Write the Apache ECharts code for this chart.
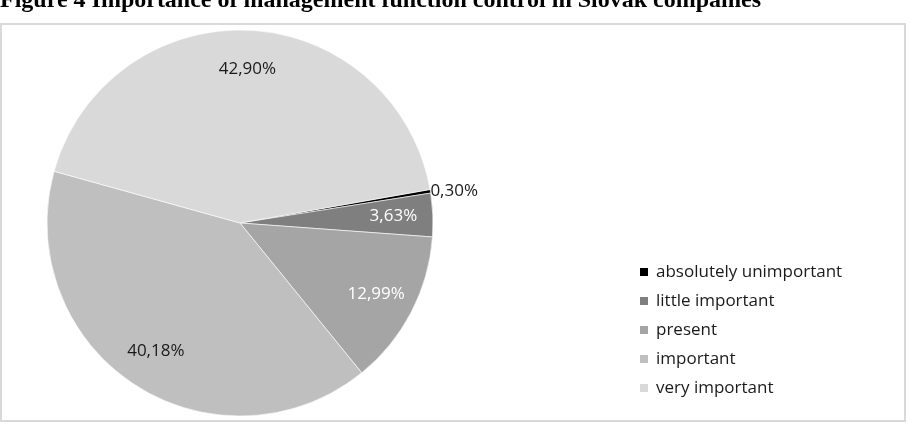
<!DOCTYPE html>
<html>
<head>
<meta charset="utf-8">
<script src="https://cdn.jsdelivr.net/npm/echarts@6/dist/echarts.min.js"></script>
<style>
  html, body { margin: 0; padding: 0; background: #fff; }
  #pie-chart { width: 915px; height: 434px; }
</style>
</head>
<body>
<div id="pie-chart"></div>
<script>
// categories and shares (%)
const categories = ["absolutely unimportant", "little important", "present", "important", "very important"];
const shares = [0.30, 3.63, 12.99, 40.18, 42.90];
const colors = ["#000000", "#7f7f7f", "#a5a5a5", "#bfbfbf", "#d9d9d9"];
const labelColors = ["#1a1a1a", "#ffffff", "#ffffff", "#1a1a1a", "#1a1a1a"];

const font = "'Open Sans', 'Noto Sans', sans-serif";
const center = [240, 223];
const radius = 193;

const chart = echarts.init(document.getElementById("pie-chart"));

function fmt(v) {
  return v.toFixed(2).replace(".", ",") + "%";
}

const sliceData = categories.map((name, i) => ({
  name: name,
  value: shares[i],
  itemStyle: { color: colors[i] }
}));

// second, see-through ring only used to place labels at ~0.78 r
const labelData = categories.map((name, i) => ({
  name: name,
  value: shares[i],
  label: i === 0
    ? { position: "outside", color: labelColors[i], distanceToLabelLine: 0 }
    : { position: "inside", color: labelColors[i] },
  labelLine: { show: false, length: 0, length2: 0 }
}));

chart.setOption({
  animation: false,
  title: {
    text: "Figure 4 Importance of management function control in Slovak companies",
    left: 0,
    top: -11,
    padding: 0,
    textStyle: {
      fontFamily: "'Liberation Serif', 'Times New Roman', serif",
      fontWeight: "bold",
      fontSize: 24,
      color: "#000"
    }
  },
  graphic: [{
    type: "rect",
    shape: { x: 1, y: 24, width: 904, height: 397 },
    style: { fill: "none", stroke: "#d9d9d9", lineWidth: 2 },
    silent: true
  }],
  legend: {
    orient: "vertical",
    left: 638,
    top: 263,
    padding: 0,
    icon: "rect",
    itemWidth: 10,
    itemHeight: 10,
    itemGap: 11,
    data: categories,
    textStyle: {
      fontFamily: font,
      fontSize: 17,
      lineHeight: 18,
      color: "#1a1a1a",
      padding: [0, 0, 0, 2]
    }
  },
  series: [
    {
      name: "slices",
      type: "pie",
      center: center,
      radius: [0, radius],
      startAngle: 10,
      clockwise: true,
      avoidLabelOverlap: false,
      label: { show: false },
      labelLine: { show: false },
      itemStyle: { borderColor: "#ffffff", borderWidth: 0.6 },
      emphasis: { disabled: true },
      data: sliceData
    },
    {
      name: "labels",
      type: "pie",
      center: center,
      radius: [radius * 0.56, radius],
      startAngle: 10,
      clockwise: true,
      silent: true,
      avoidLabelOverlap: false,
      itemStyle: { color: "rgba(0,0,0,0)", borderWidth: 0 },
      label: {
        show: true,
        fontFamily: font,
        fontSize: 17,
        formatter: p => fmt(p.value)
      },
      emphasis: { disabled: true },
      data: labelData
    }
  ]
});
</script>
</body>
</html>
